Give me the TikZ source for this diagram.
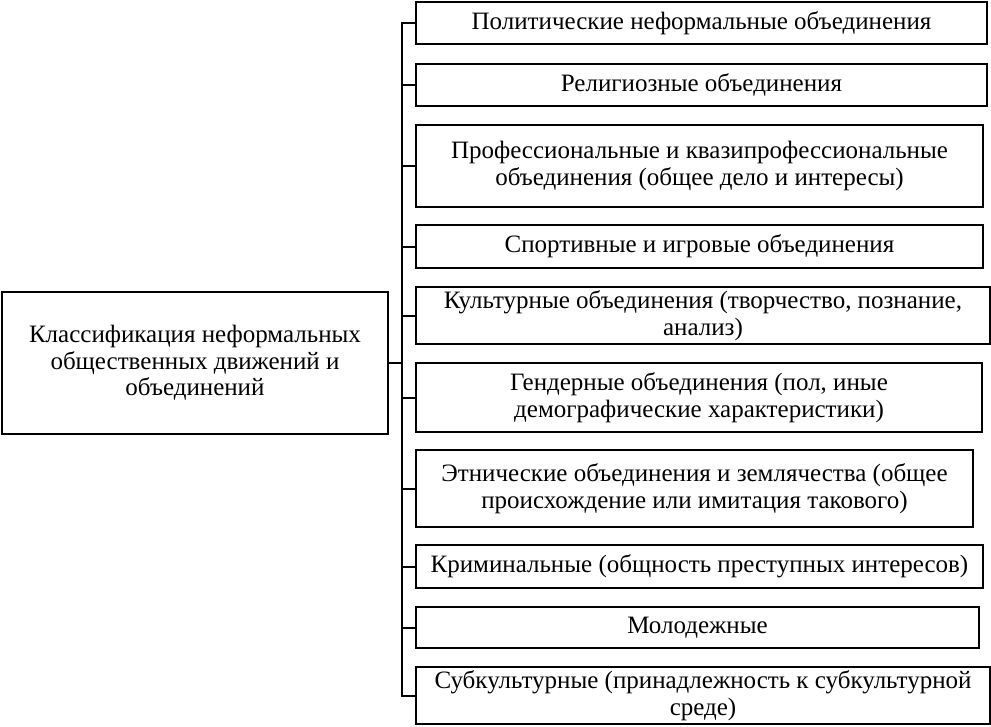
\documentclass[tikz,border=0pt]{standalone}
\usepackage{fontspec}
\setmainfont{Liberation Serif}
\begin{document}
\begin{tikzpicture}[x=1pt,y=-1pt,
  box/.style={draw,line width=2pt,inner sep=0pt,align=center,font=\fontsize{25}{26.5}\selectfont},
  link/.style={line width=2pt}]
\useasboundingbox (0,0) rectangle (991,726);
\node[box,minimum width=386,minimum height=142] (L) at (195,363) {Классификация неформальных\\общественных движений и\\объединений};
\node[box,minimum width=571,minimum height=42] (b1) at (701.5,23) {Политические неформальные объединения};
\node[box,minimum width=571,minimum height=42] (b2) at (701.5,85) {Религиозные объединения};
\node[box,minimum width=567,minimum height=82] (b3) at (699.5,166) {Профессиональные и квазипрофессиональные\\объединения (общее дело и интересы)};
\node[box,minimum width=567,minimum height=43] (b4) at (699.5,246.5) {Спортивные и игровые объединения};
\node[box,minimum width=574,minimum height=57] (b5) at (703,315.5) {Культурные объединения (творчество, познание,\\анализ)};
\node[box,minimum width=566,minimum height=69] (b6) at (699,397.5) {Гендерные объединения (пол, иные\\демографические характеристики)};
\node[box,minimum width=557,minimum height=77] (b7) at (694.5,488.5) {Этнические объединения и землячества (общее\\происхождение или имитация такового)};
\node[box,minimum width=567,minimum height=43] (b8) at (699.5,566.5) {Криминальные (общность преступных интересов)};
\node[box,minimum width=563,minimum height=41] (b9) at (697.5,627.5) {Молодежные};
\node[box,minimum width=574,minimum height=57] (b10) at (703,695.5) {Субкультурные (принадлежность к субкультурной\\среде)};
\coordinate (tr) at (402,363);
\draw[link] (b1.west) -| (tr) |- (b10.west);
\foreach \n in {b2,b3,b4,b5,b6,b7,b8,b9}{\draw[link] (\n.west) -- (\n.west -| tr);}
\draw[link] (L.east) -- (tr);
\end{tikzpicture}
\end{document}
